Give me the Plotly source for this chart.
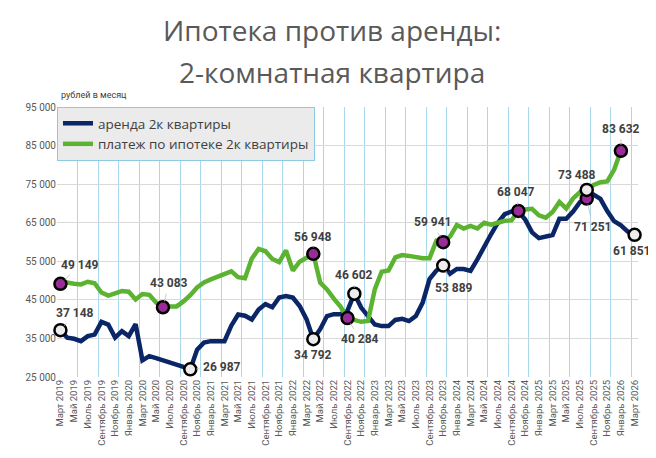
import plotly.graph_objects as go

# Месяцы: март 2019 - март 2026
month_names = ["Январь", "Февраль", "Март", "Апрель", "Май", "Июнь", "Июль",
               "Август", "Сентябрь", "Октябрь", "Ноябрь", "Декабрь"]
months = []
for k in range(85):
    m = (2 + k) % 12
    y = 2019 + (2 + k) // 12
    months.append(f"{month_names[m]} {y}")

# аренда 2к квартиры, руб/мес
rent = [37148, 35200, 34900, 34300, 35600, 36000, 39300, 38600, 35200, 36900,
        35600, 38700, 29300, 30400, 29900, 29400, 28800, 28200, 27600, 26987,
        32100, 33900, 34300, 34300, 34300, 38300, 41200, 40900, 39900, 42500,
        43900, 43100, 45600, 46000, 45600, 43400, 40000, 34792, 37400, 40800,
        41300, 41300, 42200, 46602, 43000, 40800, 38600, 38200, 38200, 39800,
        40100, 39500, 40800, 44300, 50400, 52600, 53889, 51800, 53000, 53000,
        52500, 55500, 59000, 62000, 65000, 67200, 67900, 67900, 65800, 62500,
        61000, 61400, 61800, 66000, 66000, 67900, 70300, 71251, 72300, 71200,
        68000, 65400, 64300, 62700, 61851]

# платеж по ипотеке 2к квартиры, руб/мес (до января 2026)
mortgage = [49149, 49500, 49200, 49000, 49700, 49300, 46900, 46100, 46700, 47300,
            47100, 45100, 46500, 46300, 44300, 43083, 43300, 43300, 44600, 46200,
            48200, 49500, 50300, 51000, 51700, 52400, 50900, 50600, 55700, 58200,
            57600, 55600, 54800, 57800, 52600, 54900, 55900, 56948, 49500, 47700,
            45300, 43200, 40284, 39900, 39300, 39500, 47800, 52300, 52600, 56000,
            56600, 56400, 56100, 55800, 55800, 60300, 59941, 61400, 64400, 63500,
            64200, 63500, 65000, 64500, 65000, 65500, 65600, 68047, 68400, 68600,
            66900, 66300, 67800, 70400, 68700, 71300, 72900, 73488, 74800, 75500,
            75700, 78700, 83632]

# подписанные точки: индексы месяцев
rent_marks = [0, 19, 37, 43, 56, 77, 84]
mortgage_marks = [0, 15, 37, 42, 56, 67, 77, 82]

y_ticks = list(range(25000, 95001, 10000))

PURPLE = "#9a2c98"
WHITE = "#ececec"
rent_fill = [PURPLE if i == 77 else WHITE for i in rent_marks]
mort_fill = [WHITE if i == 77 else PURPLE for i in mortgage_marks]

# смещения подписей (px)
rent_off = {0: (15, -17), 19: (32, -2), 37: (0, 16), 43: (0, -19),
            56: (11, 22), 77: (6, 28), 84: (-3, 16)}
mort_off = {0: (20, -19), 15: (6, -24), 37: (0, -17), 42: (12, 21),
            56: (-11, -20), 67: (-2, -19), 77: (-10, -15), 82: (0, -22)}

idx = list(range(len(months)))

fig = go.Figure()
fig.add_trace(go.Scatter(
    x=idx, y=rent, mode="lines", name="аренда 2к квартиры",
    line=dict(color="#0b2667", width=4.5), cliponaxis=False))
fig.add_trace(go.Scatter(
    x=idx[:len(mortgage)], y=mortgage, mode="lines",
    name="платеж по ипотеке 2к квартиры",
    line=dict(color="#5cb331", width=4.5), cliponaxis=False))

fig.add_trace(go.Scatter(
    x=rent_marks, y=[rent[i] for i in rent_marks], mode="markers",
    showlegend=False, cliponaxis=False,
    marker=dict(size=12, color=rent_fill, line=dict(color="black", width=2.5))))
fig.add_trace(go.Scatter(
    x=mortgage_marks, y=[mortgage[i] for i in mortgage_marks], mode="markers",
    showlegend=False, cliponaxis=False,
    marker=dict(size=12, color=mort_fill, line=dict(color="black", width=2.5))))


def fmt(v):
    return f"{v:,}".replace(",", " ")


annotations = []
for series, marks, offs in ((rent, rent_marks, rent_off),
                            (mortgage, mortgage_marks, mort_off)):
    for i in marks:
        ax, ay = offs[i]
        annotations.append(dict(
            x=i, y=series[i], text=fmt(series[i]), ax=ax, ay=ay,
            showarrow=True, arrowhead=0, arrowwidth=0.8, arrowcolor="#bfbfbf",
            standoff=6, startstandoff=2,
            font=dict(family="Roboto", size=12, color="#404040", weight="bold")))

# заголовок и подпись оси
annotations += [
    dict(text="Ипотека против аренды:", xref="paper", yref="paper",
         x=0.473, y=1.285, showarrow=False, xanchor="center", yanchor="middle",
         font=dict(family="Open Sans", size=28, color="#595959")),
    dict(text="2-комнатная квартира", xref="paper", yref="paper",
         x=0.473, y=1.128, showarrow=False, xanchor="center", yanchor="middle",
         font=dict(family="Open Sans", size=28, color="#595959")),
    dict(text="рублей в месяц", xref="paper", yref="paper",
         x=0.003, y=1.045, showarrow=False, xanchor="left", yanchor="middle",
         font=dict(family="Roboto", size=9, color="#404040")),
]

# страница добавляет отступ 8px, поэтому поля уменьшены
fig.update_layout(
    width=648, height=450, autosize=False,
    margin=dict(l=49, r=18, t=99, b=79),
    paper_bgcolor="white", plot_bgcolor="white",
    separators=", ",
    annotations=annotations,
    showlegend=True,
    legend=dict(x=0.0, y=1.0, xanchor="left", yanchor="top",
                bgcolor="#ebebeb", bordercolor="#8ccbe3", borderwidth=1,
                font=dict(family="Open Sans", size=13.5, color="#404040"),
                tracegroupgap=0, itemwidth=30),
)

fig.update_xaxes(
    range=[-0.5, 84.5], tickmode="array",
    tickvals=idx[::2], ticktext=months[::2], tickangle=-90,
    showgrid=False, zeroline=False, showline=False, ticks="",
    tickfont=dict(family="Roboto", size=9.5, color="#595959"),
    minor=dict(tickvals=[k - 0.5 for k in range(0, 85, 3)],
               showgrid=True, gridcolor="#a8d8ec", gridwidth=1, ticks=""),
)
fig.update_yaxes(
    range=[25000, 95000], tickvals=y_ticks, tickformat=",d",
    showgrid=True, gridcolor="#d9d9d9", gridwidth=1,
    zeroline=False, showline=False, ticks="",
    tickfont=dict(family="Roboto", size=10, color="#595959"),
)

fig.write_html("out.html")
